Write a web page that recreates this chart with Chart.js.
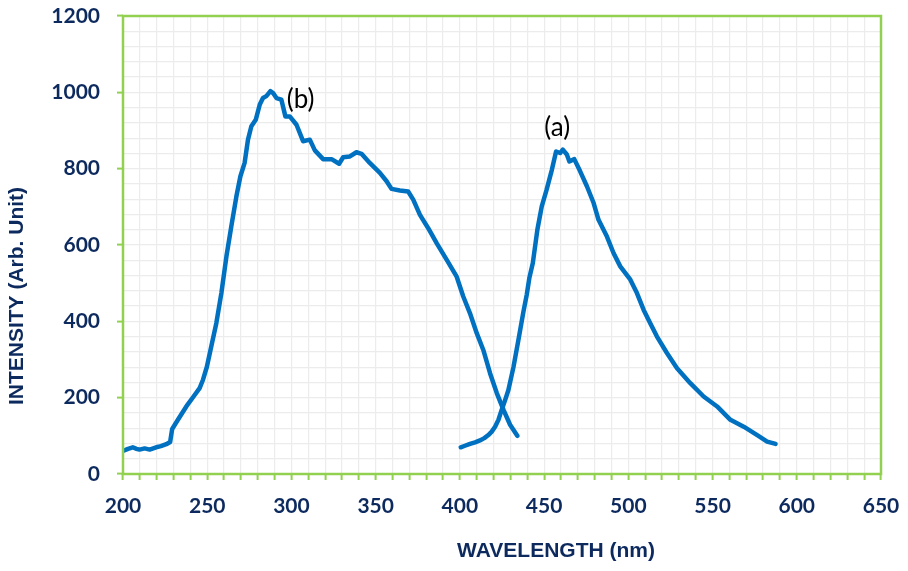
<!DOCTYPE html>
<html>
<head>
<meta charset="utf-8">
<script src="https://cdn.jsdelivr.net/npm/chart.js@4.4.1/dist/chart.umd.min.js"></script>
<style>
  body { margin: 0; background: #fff; }
  #wrap { width: 908px; height: 571px; position: relative; }
</style>
</head>
<body>
<div id="wrap"><canvas id="myChart"></canvas></div>
<script>
'use strict';
// excitation spectrum (b)
let wavelengthB = [200.3, 203, 205.8, 208, 209.8, 212.8, 215.8, 219.7, 222.5, 225.7, 228, 229.2,
    232.6, 237.6, 241.9, 245.5, 247.5, 249.8, 252.4, 255.4, 258.4, 261.4, 264.3, 267.3, 269.7,
    272.2, 274.2, 276.2, 278.8, 281.2, 283.1, 285.1, 287.5, 289.1, 291.1, 294, 296.4, 299, 303,
    306.9, 310.9, 313.9, 318.8, 323.8, 328.3, 330.7, 334.7, 338.6, 341.6, 346.5, 352.5, 356.5,
    359.4, 364.4, 369.3, 372.3, 376.3, 381.2, 386.2, 392.2, 398.1, 402, 406, 410, 413.9, 417.9,
    421.9, 425.9, 429.8, 434.1];
let intensityB = [61, 66, 70, 66, 64, 67, 64, 70, 73, 78, 84, 118,
    142, 177, 203, 225, 247, 281, 334, 395, 474, 570, 649, 727, 780,
    815, 876, 911, 928, 968, 985, 990, 1003, 998, 985, 981, 937, 937, 915,
    872, 876, 848, 825, 825, 813, 830, 832, 843, 839, 815, 789, 767,
    747, 743, 740, 719, 679, 644, 605, 561, 517, 465, 421, 369, 325, 264,
    212, 168, 129, 100];

// emission spectrum (a)
let wavelengthA = [400.5, 403, 406, 409, 411.9, 414.5, 416.9, 418.9, 420.9, 422.9, 424.8, 426.8,
    428.8, 431.8, 434.7, 437.7, 439.7, 441.3, 443.3, 446, 448.6, 451.5, 454.6, 457.1, 459.5,
    461.1, 463.5, 465, 467.9, 471.4, 475.4, 479.4, 482.3, 487.3, 491.2, 495.2, 501.2, 505.1,
    509.1, 513, 517, 522.9, 528.9, 536.8, 544.7, 552.7, 560.6, 568.5, 576.5, 582.4, 587.4];
let intensityA = [70, 74, 79, 83, 88, 94, 102, 111, 124, 142, 168, 193,
    220, 280, 350, 425, 470, 515, 553, 640, 701, 745, 797, 845, 841,
    850, 837, 819, 825, 793, 754, 710, 666, 622, 579, 544, 509, 474,
    430, 395, 360, 317, 277, 238, 203, 177, 142, 124, 102, 85, 79];

// peak tags: [text, wavelength, intensity]
let peakTags = [['(b)', 305.5, 981], ['(a)', 457.8, 907]];

const navy = '#0D2A5E';
const green = '#92D050';
const lineBlue = '#0070C0';

function toPoints(xs, ys) {
    let pts = [];
    for (let i = 0; i < xs.length; i++) {
        pts.push({x: xs[i], y: ys[i]});
    }
    return pts;
}

// frame, axis titles and the (a)/(b) tags
const extras = {
    id: 'extras',
    afterDatasetsDraw(chart) {
        const c = chart.ctx;
        const a = chart.chartArea;
        c.save();
        c.strokeStyle = green;
        c.lineWidth = 2.5;
        c.strokeRect(a.left, a.top, a.right - a.left, a.bottom - a.top);

        c.fillStyle = '#000';
        c.font = '26px Lato';
        c.textAlign = 'center';
        c.textBaseline = 'middle';
        for (let t of peakTags) {
            c.fillText(t[0], chart.scales.x.getPixelForValue(t[1]), chart.scales.y.getPixelForValue(t[2]));
        }

        c.fillStyle = navy;
        c.font = 'bold 21px "Liberation Sans"';
        c.fillText('WAVELENGTH (nm)', 556, 551);
        c.translate(17, 296);
        c.rotate(-Math.PI / 2);
        c.fillText('INTENSITY (Arb. Unit)', 0, 0);
        c.restore();
    }
};

let ctx = document.getElementById('myChart').getContext('2d');
let myChart = new Chart(ctx, {
    type: 'line',
    data: {
        datasets: [{
            label: '(b)',
            data: toPoints(wavelengthB, intensityB),
            borderColor: lineBlue,
            borderWidth: 4.5,
            pointRadius: 0,
            tension: 0,
            borderJoinStyle: 'round',
            borderCapStyle: 'round'
        }, {
            label: '(a)',
            data: toPoints(wavelengthA, intensityA),
            borderColor: lineBlue,
            borderWidth: 4.5,
            pointRadius: 0,
            tension: 0,
            borderJoinStyle: 'round',
            borderCapStyle: 'round'
        }]
    },
    options: {
        responsive: true,
        maintainAspectRatio: false,
        animation: false,
        layout: { padding: { top: 16, right: 27, left: 0, bottom: 0 } },
        plugins: { legend: { display: false }, tooltip: { enabled: false } },
        scales: {
            x: {
                type: 'linear',
                min: 200,
                max: 650,
                afterFit(scale) {
                    scale.height = 97;
                    scale.paddingLeft = 0;
                    scale.paddingRight = 0;
                },
                border: { display: false },
                grid: {
                    color: '#ECECEC',
                    lineWidth: 1.2,
                    tickColor: green,
                    tickLength: 6,
                    tickWidth: 2
                },
                ticks: {
                    stepSize: 10,
                    autoSkip: false,
                    maxRotation: 0,
                    padding: 14,
                    color: navy,
                    font: { family: 'Lato', size: 21, weight: 'bold' },
                    callback: (v) => (v % 50 === 0 ? v : '')
                }
            },
            y: {
                min: 0,
                max: 1200,
                afterFit(scale) {
                    scale.width = 123;
                    scale.paddingTop = 0;
                    scale.paddingBottom = 0;
                },
                border: { display: false },
                grid: {
                    color: '#ECECEC',
                    lineWidth: 1.2,
                    tickColor: (c) => (c.tick && c.tick.value % 200 === 0 ? green : 'rgba(0,0,0,0)'),
                    tickLength: 6,
                    tickWidth: 2
                },
                ticks: {
                    stepSize: 40,
                    autoSkip: false,
                    padding: 17,
                    color: navy,
                    font: { family: 'Lato', size: 21, weight: 'bold' },
                    callback: (v) => (v % 200 === 0 ? v : '')
                }
            }
        }
    },
    plugins: [extras]
});
</script>
</body>
</html>
